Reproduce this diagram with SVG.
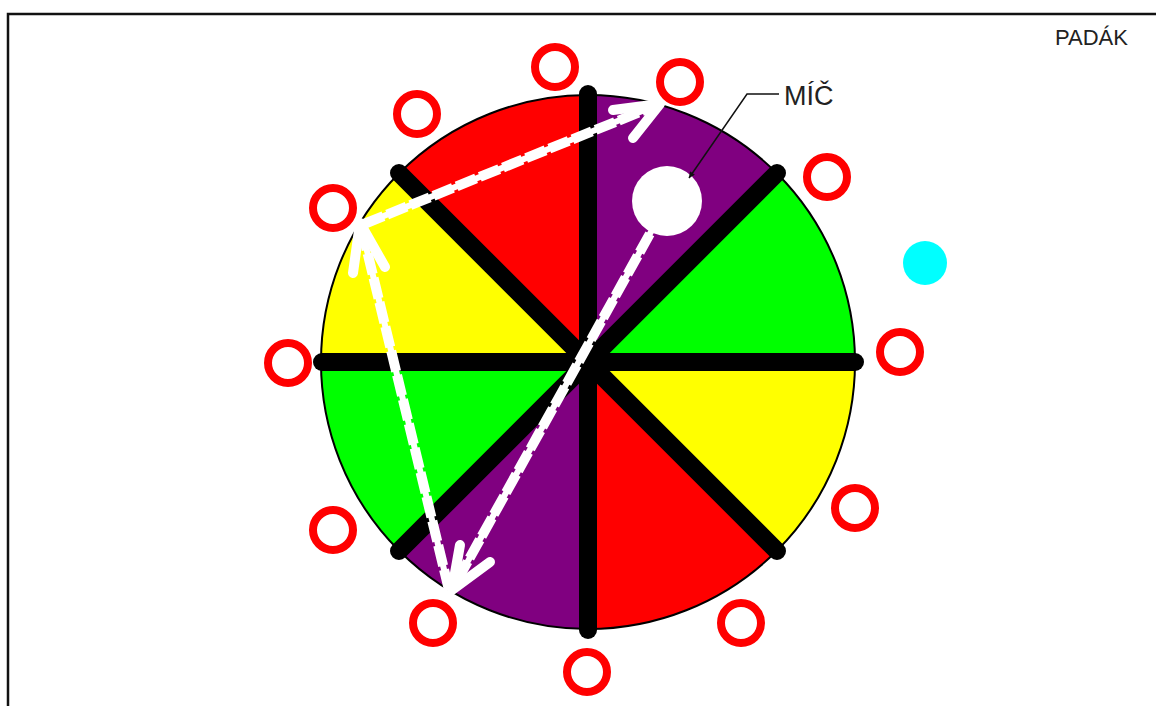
<svg xmlns="http://www.w3.org/2000/svg" width="1156" height="706" viewBox="0 0 1156 706">
<defs>
<style>
.frame{fill:none;stroke:#111;stroke-width:2.5}
.sector{stroke:none}
.outline{fill:none;stroke:#000;stroke-width:2}
.spoke{stroke:#000;stroke-width:18;stroke-linecap:round}
.ring{fill:none;stroke:#ff0000;stroke-width:8}
.core{fill:none;stroke:#fff;stroke-width:6}
.path{fill:none;stroke:#fff;stroke-width:10;stroke-dasharray:21 4}
.barb{fill:none;stroke:#fff;stroke-width:10;stroke-linecap:round;stroke-linejoin:round}
.lbl{font-family:"Liberation Sans",Arial,sans-serif;fill:#222}
.leader{fill:none;stroke:#111;stroke-width:1.5}
</style>
<marker id="ah" viewBox="0 0 10 10" refX="10" refY="5" markerWidth="8" markerHeight="6" markerUnits="userSpaceOnUse" orient="auto">
<path d="M0,0 L10,5 L0,10 Z" fill="#111"/>
</marker>
</defs>
<rect width="1156" height="706" fill="#fff"/>
<path class="frame" d="M8,706 V14 H1156"/>
<g id="parachute">
<path class="sector" fill="#800080" d="M588,362 L588,95 A267,267 0 0 1 776.8,173.2 Z"/>
<path class="sector" fill="#00ff00" d="M588,362 L776.8,173.2 A267,267 0 0 1 855,362 Z"/>
<path class="sector" fill="#ffff00" d="M588,362 L855,362 A267,267 0 0 1 776.8,550.8 Z"/>
<path class="sector" fill="#ff0000" d="M588,362 L776.8,550.8 A267,267 0 0 1 588,629 Z"/>
<path class="sector" fill="#800080" d="M588,362 L588,629 A267,267 0 0 1 399.2,550.8 Z"/>
<path class="sector" fill="#00ff00" d="M588,362 L399.2,550.8 A267,267 0 0 1 321,362 Z"/>
<path class="sector" fill="#ffff00" d="M588,362 L321,362 A267,267 0 0 1 399.2,173.2 Z"/>
<path class="sector" fill="#ff0000" d="M588,362 L399.2,173.2 A267,267 0 0 1 588,95 Z"/>
<circle class="outline" cx="588" cy="362" r="267"/>
<line class="spoke" x1="588" y1="94" x2="588" y2="630"/>
<line class="spoke" x1="322" y1="362" x2="855" y2="362"/>
<line class="spoke" x1="399" y1="173" x2="777" y2="551"/>
<line class="spoke" x1="777" y1="173" x2="399" y2="551"/>
</g>
<g id="connectors">
<line class="core" x1="662" y1="212" x2="453" y2="588"/>
<line class="path" x1="662" y1="212" x2="453" y2="588"/>
<polyline class="barb" points="460,545 452,590 490,562"/>
<line class="core" x1="449" y1="590" x2="361" y2="226"/>
<line class="path" x1="449" y1="590" x2="361" y2="226"/>
<polyline class="barb" points="353,273 360,223 385,267"/>
<line class="core" x1="364" y1="224" x2="657" y2="105"/>
<line class="path" x1="364" y1="224" x2="657" y2="105"/>
<polyline class="barb" points="613,110 660,104 633,138"/>
</g>
<g id="ball">
<circle cx="667" cy="201" r="35" fill="#fff"/>
</g>
<g id="players">
<circle class="ring" cx="555" cy="67" r="20"/>
<circle class="ring" cx="680" cy="82" r="20"/>
<circle class="ring" cx="417" cy="114" r="20"/>
<circle class="ring" cx="827" cy="177" r="20"/>
<circle class="ring" cx="333" cy="208" r="20"/>
<circle class="ring" cx="900" cy="352" r="20"/>
<circle class="ring" cx="288" cy="363" r="20"/>
<circle class="ring" cx="855" cy="508" r="20"/>
<circle class="ring" cx="333" cy="530" r="20"/>
<circle class="ring" cx="741" cy="623" r="20"/>
<circle class="ring" cx="433" cy="623" r="20"/>
<circle class="ring" cx="587" cy="672" r="20"/>
</g>
<g id="cyan-dot">
<circle cx="925" cy="263" r="22" fill="#00ffff"/>
</g>
<g id="ball-label">
<polyline class="leader" points="779,94 747,94 689,178" marker-end="url(#ah)"/>
<text class="lbl" x="784" y="105" font-size="27">MÍČ</text>
</g>
<g id="title">
<text class="lbl" x="1055" y="45" font-size="22">PADÁK</text>
</g>
</svg>
